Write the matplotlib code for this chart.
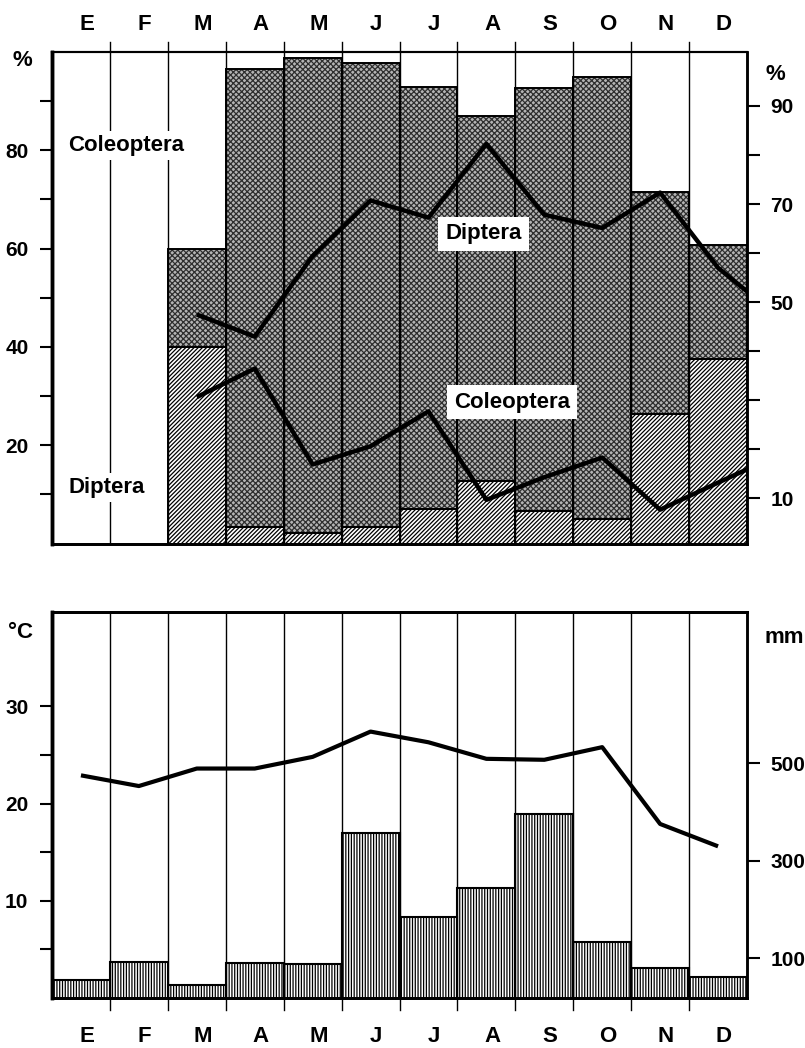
import matplotlib
matplotlib.use('Agg')
import matplotlib.pyplot as plt
import numpy as np

plt.rcParams['font.family'] = ['Liberation Sans', 'DejaVu Sans']
plt.rcParams['font.weight'] = 'bold'
plt.rcParams['font.size'] = 15
plt.rcParams['hatch.linewidth'] = 0.9

# month initials (Spanish)
months = ['E', 'F', 'M', 'A', 'M', 'J', 'J', 'A', 'S', 'O', 'N', 'D']

# top panel: stacked shares (%), no samples in E and F
diptera_pct = [0, 0, 40.0, 3.4, 2.2, 3.4, 7.1, 12.7, 6.7, 5.0, 26.3, 37.5]
other_pct = [0, 0, 20.0, 93.1, 96.6, 94.3, 85.8, 74.3, 85.9, 90.0, 45.3, 23.3]

# top panel lines (%), from March to the end of December
line_pos = [2, 3, 4, 5, 6, 7, 8, 9, 10, 11, 11.5]
diptera_line = [46.6, 42.1, 58.5, 69.8, 66.3, 81.3, 66.9, 64.2, 71.4, 56.1, 51.3]
coleoptera_line = [29.8, 35.6, 16.1, 19.8, 26.9, 8.9, 13.5, 17.5, 6.9, 12.4, 15.1]

# bottom panel: temperature (C) and rainfall (mm)
temp_c = [22.9, 21.8, 23.6, 23.6, 24.8, 27.4, 26.3, 24.6, 24.5, 25.8, 17.9, 15.6]
rain_mm = [55, 92, 45, 90, 88, 356, 184, 244, 395, 133, 79, 62]

x = np.arange(12)
W, H = 805, 1048

fig = plt.figure(figsize=(W / 100, H / 100), dpi=100)

# ---------------- top panel ----------------
ax1 = fig.add_axes([52 / W, 1 - 543.6 / H, 695 / W, 491.6 / H])
ax1.set_xlim(-0.5, 11.5)
ax1.set_ylim(0, 100)

low = np.array(diptera_pct)
mid = np.array(other_pct)
has_data = (low + mid) > 0

# hatched (Diptera) bottom
ax1.bar(x[has_data], low[has_data], width=1, color='white', edgecolor='black',
        hatch='////////', linewidth=0, zorder=1)
# stippled middle
ax1.bar(x[has_data], mid[has_data], bottom=low[has_data], width=1, color='#b4b4b4',
        edgecolor='#2e2e2e', hatch='xxxxxx', linewidth=0, zorder=1)
# outlines
ax1.bar(x[has_data], low[has_data], width=1, fill=False, edgecolor='black',
        linewidth=1.4, zorder=2)
ax1.bar(x[has_data], mid[has_data], bottom=low[has_data], width=1, fill=False,
        edgecolor='black', linewidth=1.4, zorder=2)

# month separators, poking out above the frame
for b in np.arange(0.5, 11.5, 1):
    ax1.axvline(b, ymin=0, ymax=1.02, color='black', linewidth=1.0,
                clip_on=False, zorder=2)

ax1.plot(line_pos, diptera_line, color='black', linewidth=3.2,
         solid_capstyle='butt', zorder=4)
ax1.plot(line_pos, coleoptera_line, color='black', linewidth=3.2,
         solid_capstyle='butt', zorder=4)

box = dict(facecolor='white', edgecolor='none', pad=3)
ax1.text(-0.22, 81, 'Coleoptera', ha='left', va='center', fontsize=16,
         bbox=box, zorder=5)
ax1.text(-0.22, 11.4, 'Diptera', ha='left', va='center', fontsize=16,
         bbox=box, zorder=5)
ax1.text(6.95, 63, 'Diptera', ha='center', va='center', fontsize=16,
         bbox=dict(facecolor='white', edgecolor='none', pad=5), zorder=5)
ax1.text(7.44, 28.8, 'Coleoptera', ha='center', va='center', fontsize=16,
         bbox=dict(facecolor='white', edgecolor='none', pad=5), zorder=5)

for i, m in enumerate(months):
    ax1.text(i + 0.1, 1.055, m, transform=ax1.get_xaxis_transform(),
             ha='center', va='center', fontsize=16)

ax1.set_xticks([])
ax1.set_yticks([20, 40, 60, 80])
ax1.set_yticks([10, 30, 50, 70, 90], minor=True)
ax1.tick_params(axis='y', which='both', direction='out', length=9, width=1.5, pad=8)
fig.text(12 / W, 1 - 60 / H, '%', ha='left', va='center', fontsize=16)

ax1r = ax1.twinx()
ax1r.set_ylim(0.8, 101)
ax1r.set_yticks([10, 50, 70, 90])
ax1r.set_yticks([20, 30, 40, 60, 80], minor=True)
ax1r.tick_params(axis='y', which='both', direction='out', length=9, width=1.5, pad=8)
ax1r.text(1.026, 0.955, '%', transform=ax1.transAxes, ha='left', va='center',
          fontsize=16)

for a in (ax1, ax1r):
    a.spines['left'].set_linewidth(2.5)
    a.spines['top'].set_linewidth(1.5)
    a.spines['right'].set_linewidth(1.8)
    a.spines['bottom'].set_linewidth(2.0)

# ---------------- bottom panel ----------------
ax2 = fig.add_axes([52 / W, 1 - 998 / H, 695 / W, 386 / H])
ax2.set_xlim(-0.5, 11.5)
ax2.set_ylim(0, 39.7)

ax2r = ax2.twinx()
ax2r.set_ylim(18, 810)

ax2r.bar(x, rain_mm, width=1, color='white', edgecolor='black', hatch='||||||',
         linewidth=0, zorder=1)
ax2r.bar(x, rain_mm, width=1, fill=False, edgecolor='black', linewidth=1.5, zorder=2)

for b in np.arange(0.5, 11.5, 1):
    ax2r.axvline(b, ymin=-0.03, ymax=1, color='black', linewidth=1.0,
                 clip_on=False, zorder=2)

ax2.set_zorder(ax2r.get_zorder() + 1)
ax2.patch.set_visible(False)
ax2.plot(x, temp_c, color='black', linewidth=3.0, solid_capstyle='butt', zorder=4)

for i, m in enumerate(months):
    ax2.text(i + 0.1, -0.101, m, transform=ax2.get_xaxis_transform(),
             ha='center', va='center', fontsize=16)

ax2.set_xticks([])
ax2.set_yticks([10, 20, 30])
ax2.set_yticks([5, 15, 25], minor=True)
ax2.tick_params(axis='y', which='both', direction='out', length=9, width=1.5, pad=8)
fig.text(8 / W, 1 - 633 / H, '°C', ha='left', va='center', fontsize=16)

ax2r.set_xticks([])
ax2r.set_yticks([100, 300, 500])
ax2r.tick_params(axis='y', direction='out', length=9, width=1.5, pad=8)
ax2r.text(1.025, 0.935, 'mm', transform=ax2.transAxes, ha='left', va='center',
          fontsize=16)

for a in (ax2, ax2r):
    a.spines['left'].set_linewidth(2.5)
    a.spines['top'].set_linewidth(2.0)
    a.spines['right'].set_linewidth(1.8)
    a.spines['bottom'].set_linewidth(2.0)

fig.savefig('out.png', dpi=100)
